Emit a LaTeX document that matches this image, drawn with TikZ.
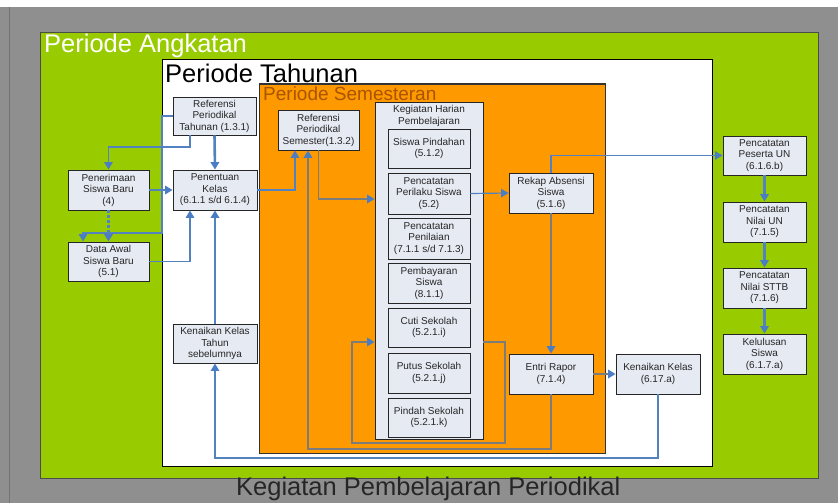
\documentclass[tikz,border=0pt]{standalone}
\usepackage{fontspec}
\setmainfont{Liberation Sans}
\usetikzlibrary{arrows.meta,shadows}
\definecolor{bggray}{HTML}{8F8F8F}
\definecolor{leaf}{HTML}{99CC00}
\definecolor{amber}{HTML}{FF9900}
\definecolor{rust}{HTML}{A85400}
\definecolor{boxfill}{HTML}{E6EAF3}
\definecolor{linkblue}{HTML}{5283C0}
\definecolor{tipblue}{HTML}{4A7DC4}
\definecolor{linkgray}{HTML}{7C7C7C}
\begin{document}
\begin{tikzpicture}[x=1pt,y=-1pt,
  box/.style={draw=black!85, line width=0.9pt, fill=boxfill, align=center,
    inner sep=1pt, font=\fontsize{10}{11.5}\selectfont, text=black!85,
    drop shadow={shadow xshift=1.3pt, shadow yshift=-1.3pt, fill=black!80, opacity=1}},
  tip/.style={-{Triangle[length=7.5pt,width=8.5pt,color=tipblue]}},
  link/.style={draw=linkblue, line width=1.6pt, tip},
  linkthin/.style={draw=linkblue, line width=1.2pt, tip},
  linkthick/.style={draw=linkblue, line width=2.6pt, tip},
  grayline/.style={draw=linkgray, line width=1.8pt, tip},
  heading/.style={anchor=base west, inner sep=0pt}
]
\useasboundingbox (0,0) rectangle (838,503);

% frame and nested period areas
\fill[white] (0,0) rectangle (838,503);
\fill[bggray] (0,7) rectangle (838,503);
\draw[black!55, line width=1pt] (9,7) -- (9,503);
\draw[fill=leaf, draw=black!70, line width=0.8pt] (40,32) rectangle (818,478);
\draw[fill=white, draw=black, line width=1pt] (162,60) rectangle (712,466);
\draw[fill=amber, draw=black!80, line width=1pt] (259,84) rectangle (605,453);

\node[heading, text=white, font=\fontsize{25.5}{25.5}\selectfont] (tAngkatan) at (44,53) {Periode Angkatan};
\node[heading, text=black, font=\fontsize{25.5}{25.5}\selectfont] (tTahunan) at (165,82) {Periode Tahunan};
\node[heading, text=rust, font=\fontsize{19}{19}\selectfont] (tSemester) at (263,100) {Periode Semesteran};
\node[heading, text=black!85, font=\fontsize{25.5}{25.5}\selectfont] (tTitle) at (236,495) {Kegiatan Pembelajaran Periodikal};

% yearly boxes
\node[box, minimum width=83pt, minimum height=38pt] (refT) at (214.5,116) {Referensi\\Periodikal\\Tahunan (1.3.1)};
\node[box, minimum width=81pt, minimum height=40pt] (pen) at (108.5,190) {Penerimaan\\Siswa Baru\\(4)};
\node[box, minimum width=84pt, minimum height=40pt] (penk) at (215,190) {Penentuan\\Kelas\\(6.1.1 s/d 6.1.4)};
\node[box, minimum width=81pt, minimum height=39pt] (data) at (108.5,261.5) {Data Awal\\Siswa Baru\\(5.1)};
\node[box, minimum width=84pt, minimum height=39pt] (kts) at (215,343.5) {Kenaikan Kelas\\Tahun\\sebelumnya};

% semester boxes
\node[box, minimum width=81pt, minimum height=40pt] (refS) at (318.5,130) {Referensi\\Periodikal\\Semester(1.3.2)};
\node[box, minimum width=108pt, minimum height=337pt] (keg) at (429,270.5) {};
\node[align=center, inner sep=0pt, font=\fontsize{10}{12}\selectfont, text=black!85] (kegTitle) at (429,116) {Kegiatan Harian\\Pembelajaran};
\node[box, minimum width=82pt, minimum height=39pt] (sp) at (429,148.5) {Siswa Pindahan\\(5.1.2)};
\node[box, minimum width=82pt, minimum height=41pt] (pps) at (429,193.5) {Pencatatan\\Perilaku Siswa\\(5.2)};
\node[box, minimum width=82pt, minimum height=41pt] (ppn) at (429,238.5) {Pencatatan\\Penilaian\\(7.1.1 s/d 7.1.3)};
\node[box, minimum width=82pt, minimum height=40pt] (pbs) at (429,283) {Pembayaran\\Siswa\\(8.1.1)};
\node[box, minimum width=82pt, minimum height=39pt] (cuti) at (429,327.5) {Cuti Sekolah\\(5.2.1.i)};
\node[box, minimum width=82pt, minimum height=40pt] (putus) at (429,373) {Putus Sekolah\\(5.2.1.j)};
\node[box, minimum width=82pt, minimum height=39pt] (pindah) at (429,417.5) {Pindah Sekolah\\(5.2.1.k)};
\node[box, minimum width=84pt, minimum height=40pt] (rekap) at (551,193) {Rekap Absensi\\Siswa\\(5.1.6)};
\node[box, minimum width=84pt, minimum height=40pt] (entri) at (551,374) {Entri Rapor\\(7.1.4)};
\node[box, minimum width=84pt, minimum height=40pt] (kk) at (658,374) {Kenaikan Kelas\\(6.17.a)};

% cohort boxes
\node[box, minimum width=83pt, minimum height=39pt] (pun) at (764.5,155.5) {Pencatatan\\Peserta UN\\(6.1.6.b)};
\node[box, minimum width=83pt, minimum height=40pt] (nun) at (764.5,222) {Pencatatan\\Nilai UN\\(7.1.5)};
\node[box, minimum width=83pt, minimum height=40pt] (sttb) at (764.5,288) {Pencatatan\\Nilai STTB\\(7.1.6)};
\node[box, minimum width=83pt, minimum height=40pt] (lulus) at (764.5,354) {Kelulusan\\Siswa\\(6.1.7.a)};

% connectors
\draw[link] (refT.west) -| (162,233) -| ([xshift=-25.5pt]data.north);
\draw[link] ([xshift=-24.5pt]refT.south) |- (pen.north |- 0,147) -- (pen.north);
\draw[linkthick] (refT.south) -- (penk.north);
\draw[link] (pen.east) -- (penk.west);
\draw[linkthick, dash pattern=on 3pt off 2pt] (pen.south) -- (data.north);
\draw[link] (data.east) -| ([xshift=-25pt]penk.south);
\draw[linkthick] (kts.north) -- (penk.south);
\draw[linkthin] (penk.east) -| ([xshift=-23.5pt]refS.south);
\draw[linkthin] (kk.south) -- (kk.south |- 0,458) -| (kts.south);
\draw[grayline] (entri.south) -- (entri.south |- 0,449) -| ([xshift=-10.5pt]refS.south);
\draw[grayline] (refS.south) |- (keg.west |- 0,199);
\draw[grayline] (keg.east |- 0,342) -- (505,342) -- (505,443) -- (352,443) -- (352,342) -- (keg.west |- 0,342);
\draw[linkthin] (pps.east) -- (rekap.west);
\draw[linkthin] (rekap.north) |- (pun.west);
\draw[grayline] (rekap.south) -- (entri.north);
\draw[grayline] (entri.east) -- (kk.west);
\draw[linkthick] (pun.south) -- (nun.north);
\draw[linkthick] (nun.south) -- (sttb.north);
\draw[linkthick] (sttb.south) -- (lulus.north);
\end{tikzpicture}
\end{document}
